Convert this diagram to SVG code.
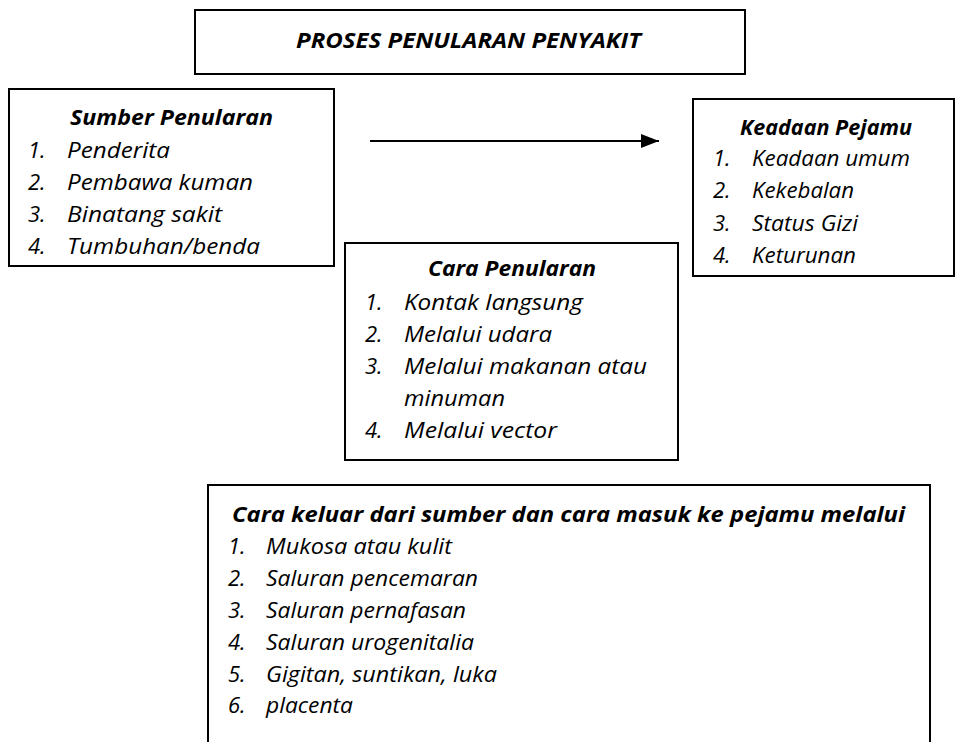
<svg xmlns="http://www.w3.org/2000/svg" width="962" height="742" viewBox="0 0 962 742">
<defs>
<style>
.box{fill:#fff;stroke:#000;stroke-width:2}
text{font-family:"Open Sans","Noto Sans","Liberation Sans",sans-serif;font-style:italic;font-size:22px;fill:#000}
.h{font-weight:bold}
.conn{stroke:#000;stroke-width:2;fill:none}
</style>
<marker id="arr" viewBox="0 0 18 14" refX="18" refY="7" markerWidth="18" markerHeight="14" markerUnits="userSpaceOnUse" orient="auto">
<path d="M0,0 L18,7 L0,14 z" fill="#000"/>
</marker>
</defs>
<rect width="962" height="742" fill="#fff"/>
<g id="title">
<rect class="box" x="195" y="10" width="550" height="64"/>
<text class="h" x="296" y="48" textLength="345" lengthAdjust="spacingAndGlyphs">PROSES PENULARAN PENYAKIT</text>
</g>
<g id="sumber">
<rect class="box" x="9" y="89" width="325" height="177"/>
<text class="h" x="70" y="125" textLength="203" lengthAdjust="spacingAndGlyphs">Sumber Penularan</text>
<text x="28" y="158">1.</text><text x="67" y="158" textLength="103" lengthAdjust="spacingAndGlyphs">Penderita</text>
<text x="28" y="190">2.</text><text x="67" y="190" textLength="186" lengthAdjust="spacingAndGlyphs">Pembawa kuman</text>
<text x="28" y="222">3.</text><text x="67" y="222" textLength="155" lengthAdjust="spacingAndGlyphs">Binatang sakit</text>
<text x="28" y="254">4.</text><text x="67" y="254" textLength="193" lengthAdjust="spacingAndGlyphs">Tumbuhan/benda</text>
</g>
<g id="keadaan">
<rect class="box" x="693" y="99" width="261" height="177"/>
<text class="h" x="740" y="135" textLength="172" lengthAdjust="spacingAndGlyphs">Keadaan Pejamu</text>
<text x="713" y="166">1.</text><text x="752" y="166" textLength="158" lengthAdjust="spacingAndGlyphs">Keadaan umum</text>
<text x="713" y="198">2.</text><text x="752" y="198" textLength="102" lengthAdjust="spacingAndGlyphs">Kekebalan</text>
<text x="713" y="231">3.</text><text x="752" y="231" textLength="106" lengthAdjust="spacingAndGlyphs">Status Gizi</text>
<text x="713" y="263">4.</text><text x="752" y="263" textLength="104" lengthAdjust="spacingAndGlyphs">Keturunan</text>
</g>
<g id="cara">
<rect class="box" x="345" y="243" width="333" height="217"/>
<text class="h" x="428" y="276" textLength="168" lengthAdjust="spacingAndGlyphs">Cara Penularan</text>
<text x="365" y="310">1.</text><text x="404" y="310" textLength="179" lengthAdjust="spacingAndGlyphs">Kontak langsung</text>
<text x="365" y="342">2.</text><text x="404" y="342" textLength="148" lengthAdjust="spacingAndGlyphs">Melalui udara</text>
<text x="365" y="374">3.</text><text x="404" y="374" textLength="243" lengthAdjust="spacingAndGlyphs">Melalui makanan atau</text>
<text x="404" y="406" textLength="101" lengthAdjust="spacingAndGlyphs">minuman</text>
<text x="365" y="438">4.</text><text x="404" y="438" textLength="153" lengthAdjust="spacingAndGlyphs">Melalui vector</text>
</g>
<g id="keluar">
<path class="conn" d="M208,745 V485 H930 V745"/>
<text class="h" x="232" y="522" textLength="673" lengthAdjust="spacingAndGlyphs">Cara keluar dari sumber dan cara masuk ke pejamu melalui</text>
<text x="228" y="554">1.</text><text x="266" y="554" textLength="186" lengthAdjust="spacingAndGlyphs">Mukosa atau kulit</text>
<text x="228" y="586">2.</text><text x="266" y="586" textLength="212" lengthAdjust="spacingAndGlyphs">Saluran pencemaran</text>
<text x="228" y="618">3.</text><text x="266" y="618" textLength="200" lengthAdjust="spacingAndGlyphs">Saluran pernafasan</text>
<text x="228" y="650">4.</text><text x="266" y="650" textLength="208" lengthAdjust="spacingAndGlyphs">Saluran urogenitalia</text>
<text x="228" y="682">5.</text><text x="266" y="682" textLength="231" lengthAdjust="spacingAndGlyphs">Gigitan, suntikan, luka</text>
<text x="228" y="713">6.</text><text x="266" y="713" textLength="87" lengthAdjust="spacingAndGlyphs">placenta</text>
</g>
<g id="connectors">
<line class="conn" x1="370" y1="141" x2="659" y2="141" marker-end="url(#arr)"/>
</g>
</svg>
